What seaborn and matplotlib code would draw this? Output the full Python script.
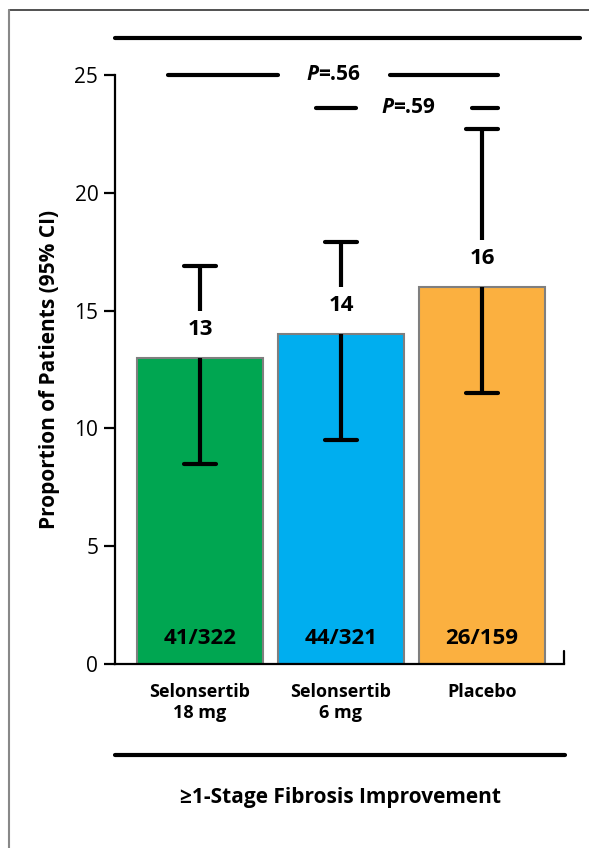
import numpy as np
import matplotlib
matplotlib.use("Agg")
import matplotlib.pyplot as plt
from matplotlib.lines import Line2D
import seaborn as sns

# data
groups = ["Selonsertib\n18 mg", "Selonsertib\n6 mg", "Placebo"]
pct = [13, 14, 16]
ci_lo = [8.5, 9.5, 11.5]
ci_hi = [16.9, 17.9, 22.7]
counts = ["41/322", "44/321", "26/159"]
colors = ["#00A651", "#00AEEF", "#FBB040"]
yticks = [0, 5, 10, 15, 20, 25]

sns.set_style("white")
plt.rcParams["font.family"] = ["Open Sans", "DejaVu Sans"]
plt.rcParams["text.color"] = "black"
plt.rcParams["axes.labelcolor"] = "black"
plt.rcParams["xtick.color"] = "black"
plt.rcParams["ytick.color"] = "black"

W, H = 589, 848
fig = plt.figure(figsize=(W / 100, H / 100), dpi=100)
ax = fig.add_axes([115 / W, (H - 664) / H, (564 - 115) / W, (664 - 75) / H])

sns.barplot(x=groups, y=pct, hue=groups, palette=colors, width=0.9, saturation=1,
            edgecolor="#7f7f7f", linewidth=1.5, legend=False, ax=ax)
ax.set_xlim(-0.603, 2.582)
ax.set_ylim(0, 25)

# error bars with a gap for the value label
cap = 0.115
for i, (v, lo, hi) in enumerate(zip(pct, ci_lo, ci_hi)):
    ax.plot([i, i], [v + 2.0, hi], color="black", lw=3, solid_capstyle="butt", clip_on=False)
    ax.plot([i, i], [lo, v], color="black", lw=3, solid_capstyle="butt")
    ax.plot([i - cap, i + cap], [hi, hi], color="black", lw=3, solid_capstyle="round", clip_on=False)
    ax.plot([i - cap, i + cap], [lo, lo], color="black", lw=3, solid_capstyle="round")
    ax.text(i, v + 1.2, str(v), ha="center", va="center", fontsize=16, fontweight="bold")
    ax.text(i, 1.1, counts[i], ha="center", va="center", fontsize=16, fontweight="bold")

# p-value brackets
def pbar(x0, x1, xt, y, label):
    ax.plot([x0, x1], [y, y], color="black", lw=3, solid_capstyle="round", clip_on=False)
    ax.text(xt, y, "P", ha="right", va="center", fontsize=15, style="italic",
            fontweight="bold", clip_on=False)
    ax.text(xt, y, label, ha="left", va="center", fontsize=15,
            fontweight="bold", clip_on=False)

pbar(-0.227, 0.553, 0.84, 25.0, "=.56")
ax.plot([1.348, 2.113], [25.0, 25.0], color="black", lw=3, solid_capstyle="round", clip_on=False)
pbar(0.823, 1.106, 1.37, 23.6, "=.59")
ax.plot([1.929, 2.113], [23.6, 23.6], color="black", lw=3, solid_capstyle="round", clip_on=False)

# axes styling
for s in ["top", "right"]:
    ax.spines[s].set_visible(False)
ax.spines["left"].set_linewidth(1.6)
ax.spines["bottom"].set_linewidth(1.6)
ax.spines["left"].set_color("black")
ax.spines["bottom"].set_color("black")
ax.set_yticks(yticks)
ax.tick_params(axis="y", direction="out", length=8, width=1.6, labelsize=15, pad=4, left=True)
ax.tick_params(axis="x", length=0, labelsize=13, pad=14)
for t in ax.get_xticklabels():
    t.set_fontweight("bold")
ax.plot([2.582, 2.582], [0, 0.55], color="black", lw=1.6, clip_on=False)
ax.set_ylabel("Proportion of Patients (95% CI)", fontsize=15, fontweight="bold", labelpad=10)

# header / footer rules and caption
fig.add_artist(Line2D([115 / W, 580 / W], [1 - 38 / H] * 2, color="black", lw=3))
fig.add_artist(Line2D([115 / W, 565 / W], [1 - 755 / H] * 2, color="black", lw=3))
fig.text(341 / W, 1 - 798 / H, "\u22651-Stage Fibrosis Improvement", ha="center", va="center",
         fontsize=15, fontweight="bold")

# panel frame
fig.add_artist(Line2D([9 / W, 1.0], [1 - 10 / H] * 2, color="#333333", lw=1.2))
fig.add_artist(Line2D([9 / W, 9 / W], [0, 1 - 10 / H], color="#888888", lw=1.5))

fig.savefig("out.png", dpi=100)
